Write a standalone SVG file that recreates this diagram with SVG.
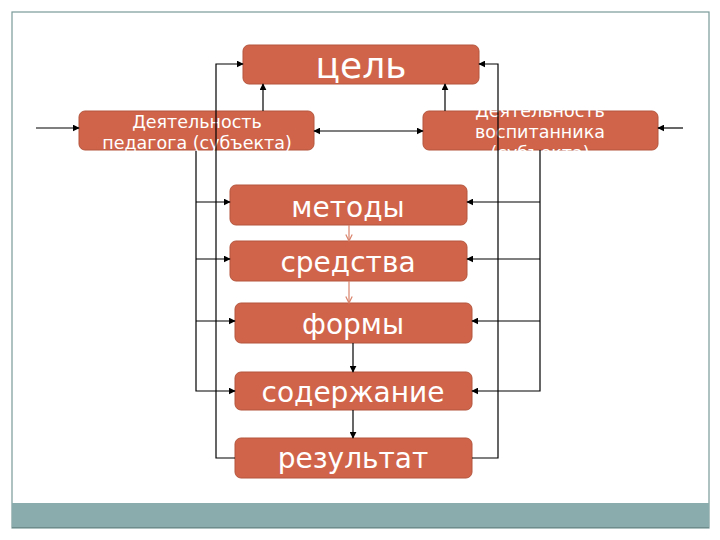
<svg xmlns="http://www.w3.org/2000/svg" width="720" height="540" viewBox="0 0 720 540">
<defs>
<style>
.box{fill:#D0644A;stroke:#B4553C;stroke-width:1}
.t{fill:#fff;font-family:"DejaVu Sans",Verdana,sans-serif;text-anchor:middle}
.big{font-size:28px}
.sm{font-size:17.5px}
.c{fill:none;stroke:#000;stroke-width:1.2}
.r{fill:none;stroke:#D9826A;stroke-width:1.2}
</style>
<marker id="a" viewBox="0 0 10 10" refX="9" refY="5" markerWidth="7" markerHeight="7" markerUnits="userSpaceOnUse" orient="auto-start-reverse">
<path d="M0,0 L10,5 L0,10 z" fill="#000"/>
</marker>
<marker id="v" viewBox="0 0 10 10" refX="9" refY="5" markerWidth="8" markerHeight="8" markerUnits="userSpaceOnUse" orient="auto">
<path d="M1,1 L9,5 L1,9" fill="none" stroke="#D9826A" stroke-width="1.5"/>
</marker>
</defs>
<rect x="0" y="0" width="720" height="540" fill="#fff"/>
<rect x="12" y="12" width="697" height="516" fill="#fff" stroke="#7A9A9A" stroke-width="1.2"/>
<rect x="12" y="503" width="697" height="25" fill="#8BACAC"/>
<line x1="12" y1="527.5" x2="709" y2="527.5" stroke="#6E8C8C" stroke-width="1"/>

<g id="goal"><rect class="box" x="243" y="45" width="236" height="39" rx="6"/><text class="t" x="361" y="78" font-size="36">цель</text></g>
<g id="teacher"><rect class="box" x="79" y="111" width="235" height="39" rx="6"/><text class="t sm" x="197" y="128">Деятельность</text><text class="t sm" x="197" y="149">педагога (субъекта)</text></g>
<g id="pupil"><rect class="box" x="423" y="111" width="235" height="39" rx="6"/><text class="t sm" x="540" y="117">Деятельность</text><text class="t sm" x="540" y="138">воспитанника</text><text class="t sm" x="540" y="159">(субъекта)</text></g>
<g id="methods"><rect class="box" x="230" y="185" width="237" height="40" rx="6"/><text class="t big" x="348" y="217">методы</text></g>
<g id="means"><rect class="box" x="230" y="241" width="237" height="40" rx="6"/><text class="t big" x="348" y="272">средства</text></g>
<g id="forms"><rect class="box" x="235" y="303" width="237" height="40" rx="6"/><text class="t big" x="353" y="334">формы</text></g>
<g id="content"><rect class="box" x="235" y="372" width="237" height="38" rx="6"/><text class="t big" x="353" y="402">содержание</text></g>
<g id="result"><rect class="box" x="235" y="438" width="237" height="40" rx="6"/><text class="t big" x="353" y="468">результат</text></g>

<g id="connectors">
<path class="c" d="M36,128 H79" marker-end="url(#a)"/>
<path class="c" d="M235,458 H216 V64 H243" marker-end="url(#a)"/>
<path class="c" d="M196,151 V391 H235" marker-end="url(#a)"/>
<path class="c" d="M196,202 H230" marker-end="url(#a)"/>
<path class="c" d="M196,259 H230" marker-end="url(#a)"/>
<path class="c" d="M196,321 H235" marker-end="url(#a)"/>
<path class="c" d="M263,111 V84" marker-end="url(#a)"/>
<path class="c" d="M683,128 H658" marker-end="url(#a)"/>
<path class="c" d="M472,458 H498 V64 H479" marker-end="url(#a)"/>
<path class="c" d="M540,150 V391 H472" marker-end="url(#a)"/>
<path class="c" d="M540,202 H467" marker-end="url(#a)"/>
<path class="c" d="M540,259 H467" marker-end="url(#a)"/>
<path class="c" d="M540,321 H472" marker-end="url(#a)"/>
<path class="c" d="M445,111 V84" marker-end="url(#a)"/>
<path class="c" d="M314,131 H423" marker-start="url(#a)" marker-end="url(#a)"/>
<path class="c" d="M353,343 V372" marker-end="url(#a)"/>
<path class="c" d="M353,410 V438" marker-end="url(#a)"/>
<path class="r" d="M349,225 V241" marker-end="url(#v)"/>
<path class="r" d="M349,281 V303" marker-end="url(#v)"/>
</g>
</svg>
